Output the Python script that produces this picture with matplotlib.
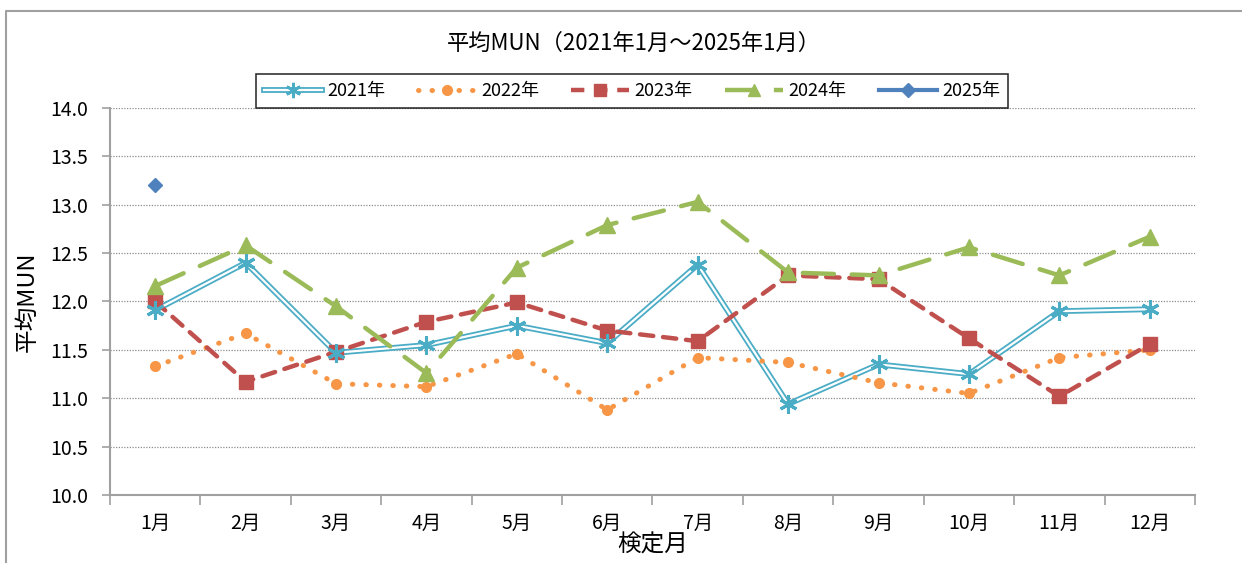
import numpy as np
import matplotlib
matplotlib.use("Agg")
import matplotlib.pyplot as plt
from matplotlib.lines import Line2D
from matplotlib.legend_handler import HandlerTuple

plt.rcParams['font.family'] = ['Noto Sans CJK JP', 'DejaVu Sans']

months = ["1月", "2月", "3月", "4月", "5月", "6月",
          "7月", "8月", "9月", "10月", "11月", "12月"]
mun_2021 = [11.91, 12.40, 11.47, 11.55, 11.75, 11.57, 12.38, 10.94, 11.35, 11.25, 11.90, 11.92]
mun_2022 = [11.33, 11.67, 11.15, 11.12, 11.46, 10.88, 11.42, 11.37, 11.16, 11.05, 11.42, 11.50]
mun_2023 = [12.00, 11.17, 11.48, 11.79, 11.99, 11.70, 11.59, 12.27, 12.23, 11.62, 11.02, 11.56]
mun_2024 = [12.16, 12.58, 11.95, 11.26, 12.35, 12.79, 13.03, 12.30, 12.27, 12.56, 12.27, 12.67]
mun_2025 = [13.20]

c21, c22, c23, c24, c25 = "#4BACC6", "#F79646", "#C0504D", "#9BBB59", "#4F81BD"

W, H = 1242, 563
fig = plt.figure(figsize=(W / 100, H / 100), dpi=100)
ax = fig.add_axes([110 / W, 1 - 495 / H, (1195 - 110) / W, (495 - 108) / H])

x = np.arange(1, 13)

# 2021: double line (cyan outer, white core)
ax.plot(x, mun_2021, color=c21, lw=4.2, zorder=3)
ax.plot(x, mun_2021, color="white", lw=1.6, zorder=3)
ax.plot(x, mun_2021, ls="none", marker=(6, 2, 0), ms=13, mec=c21, mew=2.2, zorder=4)

# 2022: round dotted
ax.plot(x, mun_2022, color=c22, lw=3.6, ls=(0, (0.1, 2.6)), dash_capstyle="round",
        marker="o", ms=7, mfc=c22, mec=c22, zorder=3)

# 2023: dashed with squares
ax.plot(x, mun_2023, color=c23, lw=3.2, ls=(0, (3, 2.2)), dash_capstyle="round",
        marker="s", ms=10, mfc=c23, mec=c23, zorder=3)

# 2024: long dash with triangles
ax.plot(x, mun_2024, color=c24, lw=3.2, ls=(0, (7, 4)), dash_capstyle="round",
        marker="^", ms=11, mfc=c24, mec=c24, zorder=3)

# 2025: single point
ax.plot(x[:len(mun_2025)], mun_2025, color=c25, lw=3, marker="D", ms=7, mfc=c25, mec=c25, zorder=3)

ax.set_xlim(0.5, 12.5)
ax.set_ylim(10.0, 14.0)
ax.set_yticks(np.arange(10.0, 14.01, 0.5))
ax.set_yticklabels([f"{v:.1f}" for v in np.arange(10.0, 14.01, 0.5)], fontsize=14)
ax.yaxis.grid(True, color="#8C8C8C", ls=(0, (1, 1.2)), lw=0.9)
ax.set_axisbelow(True)

ax.set_xticks(np.arange(0.5, 12.6, 1))
ax.set_xticklabels([])
ax.set_xticks(x, minor=True)
ax.set_xticklabels(months, minor=True, fontsize=14)
ax.tick_params(axis="x", which="major", length=7, color="#A0A0A0", width=1.2)
ax.tick_params(axis="x", which="minor", length=0, pad=13)
ax.tick_params(axis="y", length=6, color="#A0A0A0", width=1.2, pad=10)

for s in ["top", "right"]:
    ax.spines[s].set_visible(False)
for s in ["left", "bottom"]:
    ax.spines[s].set_color("#A0A0A0")
    ax.spines[s].set_linewidth(1.5)

ax.set_ylabel("平均MUN", fontsize=17, labelpad=8)
ax.set_xlabel("検定月", fontsize=17, labelpad=0)

fig.text(634 / W, 1 - 43 / H, "平均MUN（2021年1月～2025年1月）", ha="center", va="center", fontsize=16)

# legend handles
h21 = (Line2D([], [], color=c21, lw=4.2), Line2D([], [], color="white", lw=1.6),
       Line2D([], [], ls="none", marker=(6, 2, 0), ms=11, mec=c21, mew=2))
h22 = Line2D([], [], color=c22, lw=3.6, ls=(0, (0.1, 2.6)), dash_capstyle="round",
             marker="o", ms=7, mfc=c22, mec=c22)
h23 = Line2D([], [], color=c23, lw=3.2, ls=(0, (3, 2.2)), marker="s", ms=9, mfc=c23, mec=c23)
h24 = Line2D([], [], color=c24, lw=3.2, ls=(0, (7, 4)), marker="^", ms=9, mfc=c24, mec=c24)
h25 = Line2D([], [], color=c25, lw=3, marker="D", ms=7, mfc=c25, mec=c25)
leg = fig.legend([h21, h22, h23, h24, h25], ["2021年", "2022年", "2023年", "2024年", "2025年"],
                 handler_map={tuple: HandlerTuple(ndivide=1, pad=0)},
                 loc="center", bbox_to_anchor=(632 / W, 1 - 91 / H), ncol=5,
                 fontsize=13, frameon=True, fancybox=False, edgecolor="black",
                 handlelength=3.2, columnspacing=1.8, handletextpad=0.3, borderpad=0.45)
leg.get_frame().set_linewidth(1.2)

# outer chart frame
fig.add_artist(Line2D([6 / W, 6 / W, 1.0], [0, 1 - 11 / H, 1 - 11 / H],
                      transform=fig.transFigure, color="#A0A0A0", lw=1.5))

fig.savefig("out.png", dpi=100)
